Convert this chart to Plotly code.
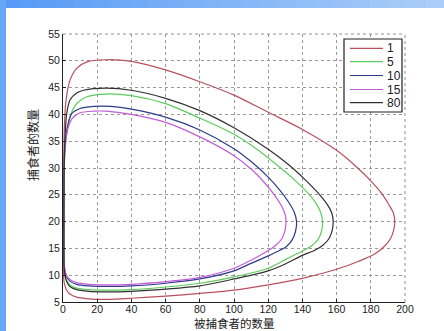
import plotly.graph_objects as go

# ---- data (closed orbits: prey x, predator y) ----
labels = ["1", "5", "10", "15", "80"]

x_1 = [0.5, 0.4, 0.5, 0.8, 1.8, 4.1, 8, 14, 25, 40, 60, 80, 100, 120, 140, 160, 172, 180, 186, 190.5, 193.2, 194,
       193.3, 191.5, 188, 182, 173, 160, 140, 120, 100, 80, 60, 40, 25, 15, 8, 4, 2, 1, 0.5]
y_1 = [9, 20, 30, 37.7, 42.7, 46.4, 48.6, 49.8, 50.2, 49.9, 48.3, 46.1, 43.6, 40.4, 37.2, 33.3, 30.1, 27.6, 25.4, 23.2, 21.6, 20,
       18.3, 16.8, 15.4, 13.9, 12.6, 11.1, 9.4, 8.2, 7.2, 6.6, 6.1, 5.7, 5.5, 5.6, 5.9, 6.5, 7.3, 8.2, 9]

x_5 = [0.6, 0.5, 0.6, 1.0, 2, 4, 8, 14, 25, 40, 60, 80, 100, 113, 125, 136, 143, 148, 150.8, 151.8,
       151.2, 149, 145, 140, 130, 120, 100, 80, 60, 40, 25, 15, 8, 4, 2, 1, 0.6]
y_5 = [12, 20, 28, 32, 36, 39.5, 42, 43.3, 43.8, 43.5, 42.0, 39.3, 36.3, 33.6, 30.6, 27.6, 25.4, 23.4, 21.6, 20,
       18.2, 16.6, 15.4, 14.5, 12.9, 11.3, 9.7, 8.5, 7.8, 7.3, 7.2, 7.3, 7.6, 8.2, 9.2, 10.5, 12]

x_10 = [0.6, 0.5, 0.6, 1.0, 2.6, 5, 10, 18, 28, 40, 60, 80, 100, 110, 120, 127, 132, 135.3, 136.6,
        136, 134, 130.5, 126, 120, 110, 100, 80, 60, 40, 25, 15, 8, 4, 2, 1, 0.6]
y_10 = [12.5, 20, 28, 34, 37.7, 40.1, 41.1, 41.5, 41.5, 41.0, 39.5, 37.1, 33.6, 31.2, 28.3, 25.8, 23.6, 21.7, 20,
        18.2, 16.6, 15.3, 14.5, 13.6, 12.2, 10.8, 9.3, 8.5, 8.0, 7.9, 8.0, 8.3, 8.9, 9.8, 11, 12.5]

x_15 = [0.6, 0.5, 0.6, 1.0, 1.8, 3, 5.5, 10, 18, 25, 40, 60, 80, 100, 110, 118, 124, 128, 130, 130.4,
        129.8, 128, 124.5, 120, 110, 100, 80, 60, 40, 25, 15, 8, 4, 2, 1, 0.6]
y_15 = [12.5, 20, 28, 32.8, 35.5, 37.5, 39.3, 40.3, 40.6, 40.6, 40.0, 38.5, 35.8, 32.3, 29.8, 27.2, 24.8, 22.8, 21.2, 20,
        18.3, 16.8, 15.6, 14.6, 12.8, 11.3, 9.6, 8.8, 8.3, 8.2, 8.3, 8.6, 9.2, 10, 11.2, 12.5]

x_80 = [0.6, 0.5, 0.6, 1.1, 2.1, 4.1, 8, 12, 25, 40, 60, 80, 100, 120, 132, 142, 149, 154.5, 157.2, 158,
        157.4, 155.5, 152, 147, 140, 130, 120, 100, 80, 60, 40, 25, 15, 8, 4, 2, 1, 0.6]
y_80 = [12, 20, 28, 35, 40, 42.7, 44.0, 44.5, 44.9, 44.5, 43.0, 40.7, 37.5, 33.5, 30.6, 27.7, 25.4, 23.2, 21.6, 20,
        18.3, 16.8, 15.6, 14.6, 13.7, 12.1, 10.8, 9.3, 8.0, 7.4, 7.0, 6.9, 7.0, 7.3, 7.9, 8.9, 10.3, 12]

series_x = [x_1, x_5, x_10, x_15, x_80]
series_y = [y_1, y_5, y_10, y_15, y_80]
colors = ["#b8505e", "#5ccc5c", "#2e3a8a", "#c25cd6", "#303030"]

x_ticks = [0, 20, 40, 60, 80, 100, 120, 140, 160, 180, 200]
y_ticks = [5, 10, 15, 20, 25, 30, 35, 40, 45, 50, 55]

fig = go.Figure()
for xs, ys, c, lab in zip(series_x, series_y, colors, labels):
    fig.add_trace(go.Scatter(x=xs, y=ys, mode="lines", name=lab,
                             line=dict(color=c, width=1.2, shape="spline", smoothing=0.8),
                             showlegend=False))

# plot area in pixels: x 63..405, y 34..302 of 444x331
L, R, T, B = 63, 405, 34, 302
W, H = R - L, B - T
def px(p):
    return (p - L) / W
def py(p):
    return (B - p) / H

shapes = []
# blue frame bands (top gradient, left)
n = 24
top_c0 = (88, 154, 246)
top_c1 = (170, 206, 248)
for i in range(n):
    t = i / (n - 1)
    col = "rgb(%d,%d,%d)" % tuple(int(a + (b - a) * t) for a, b in zip(top_c0, top_c1))
    shapes.append(dict(type="rect", xref="paper", yref="paper",
                       x0=px(444 * i / n), x1=px(444 * (i + 1) / n + 1),
                       y0=py(8), y1=py(0), fillcolor=col, line=dict(width=0), layer="above"))
shapes.append(dict(type="rect", xref="paper", yref="paper", x0=px(0), x1=px(6),
                   y0=py(331), y1=py(0), fillcolor="rgb(104,166,246)", line=dict(width=0), layer="above"))

# dotted top / right borders
shapes.append(dict(type="line", xref="paper", yref="paper", x0=0, x1=1, y0=1, y1=1,
                   line=dict(color="#909090", width=1, dash="dot")))
shapes.append(dict(type="line", xref="paper", yref="paper", x0=1, x1=1, y0=0, y1=1,
                   line=dict(color="#909090", width=1, dash="dot")))

# legend box (manual)
lx0, lx1, ly0, ly1 = 344, 402, 39, 112
shapes.append(dict(type="rect", xref="paper", yref="paper", x0=px(lx0), x1=px(lx1),
                   y0=py(ly1), y1=py(ly0), fillcolor="white", line=dict(color="#202020", width=1.2)))
rows = [48.3, 61.7, 75.5, 89.5, 102.7]
annotations = []
for r, c, lab in zip(rows, colors, labels):
    shapes.append(dict(type="line", xref="paper", yref="paper", x0=px(350), x1=px(383),
                       y0=py(r), y1=py(r), line=dict(color=c, width=1.2)))
    annotations.append(dict(x=px(384.5), y=py(r), xref="paper", yref="paper", text=lab,
                            showarrow=False, xanchor="left", yanchor="middle",
                            font=dict(family="Liberation Sans, Arial", size=12, color="#202020")))

# axis titles
annotations.append(dict(x=px(234), y=py(323), xref="paper", yref="paper", text="被捕食者的数量",
                        showarrow=False, xanchor="center", yanchor="middle",
                        font=dict(family="Noto Sans CJK SC", size=11.5, color="#202020")))
annotations.append(dict(x=px(32), y=py(145), xref="paper", yref="paper", text="捕食者的数量",
                        showarrow=False, xanchor="center", yanchor="middle", textangle=-90,
                        font=dict(family="Noto Sans CJK SC", size=12, color="#202020")))

fig.update_layout(
    width=444, height=331,
    margin=dict(l=L, r=444 - R, t=T, b=331 - B, pad=0),
    paper_bgcolor="white", plot_bgcolor="white",
    shapes=shapes, annotations=annotations,
    font=dict(family="Liberation Sans, Arial", size=10, color="#222222"),
)
fig.update_xaxes(range=[0, 200], tickvals=x_ticks, ticktext=[str(v) for v in x_ticks],
                 showgrid=True, gridcolor="#9a9a9a", griddash="dot", gridwidth=1,
                 showline=True, linecolor="#202020", linewidth=1,
                 ticks="inside", ticklen=3, tickcolor="#202020", ticklabelstandoff=-3,
                 zeroline=False, tickfont=dict(size=10.5))
fig.update_yaxes(range=[5, 55], tickvals=y_ticks, ticktext=[str(v) for v in y_ticks],
                 showgrid=True, gridcolor="#9a9a9a", griddash="dot", gridwidth=1,
                 showline=True, linecolor="#202020", linewidth=1,
                 ticks="inside", ticklen=3, tickcolor="#202020",
                 zeroline=False, tickfont=dict(size=10.5))

fig.write_html("out.html", config={"displayModeBar": False},
               post_script="document.body.style.margin='0';")
